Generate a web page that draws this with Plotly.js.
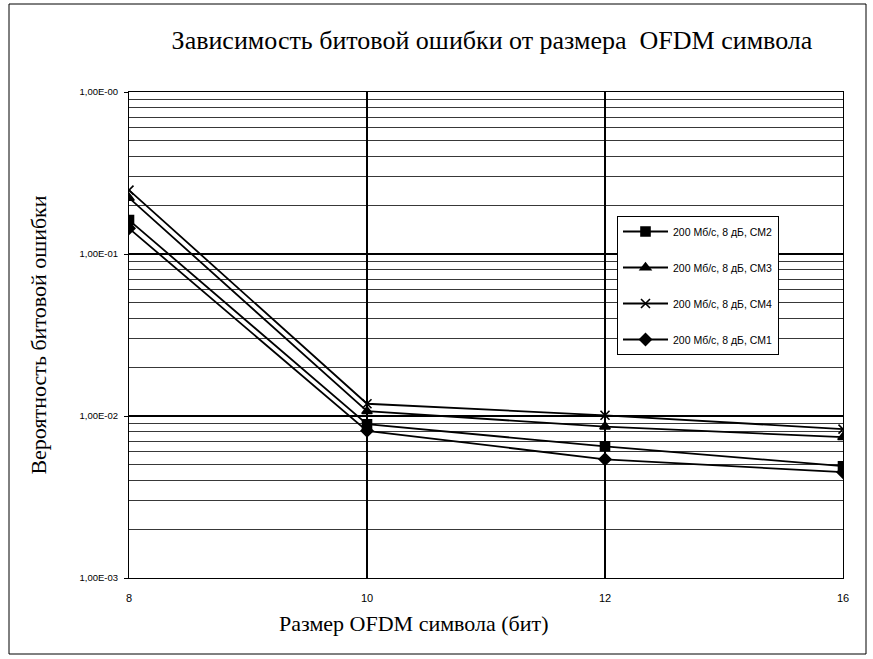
<!DOCTYPE html>
<html><head><meta charset="utf-8">
<script src="https://cdn.plot.ly/plotly-3.0.1.min.js"></script>
<style>body{margin:0;background:#fff}#c{width:873px;height:659px}</style>
</head><body><div id="c"></div>
<script>
const categories = ['8','10','12','16'];
const seriesNames = ['200 Мб/с, 8 дБ, СМ2','200 Мб/с, 8 дБ, СМ3','200 Мб/с, 8 дБ, СМ4','200 Мб/с, 8 дБ, СМ1'];
const cm2 = [0.162, 0.0089, 0.0065, 0.0049];
const cm3 = [0.222, 0.0107, 0.0086, 0.0074];
const cm4 = [0.248, 0.0119, 0.0101, 0.0083];
const cm1 = [0.144, 0.0081, 0.0054, 0.0045];
const yTickVals = [0.001, 0.01, 0.1, 1];
const yTickText = ['1,00E-03','1,00E-02','1,00E-01','1,00E-00'];

const values = [cm2, cm3, cm4, cm1];
const symbols = ['square','triangle-up','x-thin-open','diamond'];
const traces = values.map((v,i)=>({
  x: categories, y: v, name: seriesNames[i], type:'scatter', mode:'lines+markers',
  legendgroup: 'g'+i,
  line:{color:'#000', width:1.8},
  marker:{symbol:symbols[i], size:9, color:'#000', line:{color:'#000', width:1.6}}
}));

const L=129, R=30, T=92, B=81, W=873, H=659;
const pw=W-L-R, ph=H-T-B;
const px = p => (p-L)/pw, py = p => (H-B-p)/ph;

const layout = {
  width:W, height:H, margin:{l:L,r:R,t:T,b:B},
  paper_bgcolor:'#fff', plot_bgcolor:'#fff',
  font:{family:'Liberation Serif, serif', color:'#000'},
  title:{text:'Зависимость битовой ошибки от размера  OFDM символа', x:px(492), xref:'paper', xanchor:'center', y:1-40/H, yanchor:'middle', font:{size:26, family:'Liberation Serif, serif'}},
  xaxis:{type:'category', range:[0,3], showgrid:true, gridcolor:'#000', gridwidth:1.2,
    showline:true, linecolor:'#000', linewidth:1, mirror:true, ticks:'', ticklabelstandoff:10,
    tickfont:{family:'Liberation Sans, Arial, sans-serif', size:11}},
  yaxis:{type:'log', range:[-3,0], tickvals:yTickVals, ticktext:yTickText,
    showgrid:true, gridcolor:'#000', gridwidth:1.3,
    minor:{dtick:'D1', showgrid:true, gridcolor:'#222', gridwidth:0.9, ticks:''},
    showline:true, linecolor:'#000', linewidth:1, mirror:true, ticks:'outside', ticklen:4, tickcolor:'#000',
    ticklabelstandoff:4,
    tickfont:{family:'Liberation Sans, Arial, sans-serif', size:9.5},
    title:{text:'Вероятность битовой ошибки', font:{size:22}, standoff:26}},
  legend:{x:px(617), y:py(216), xanchor:'left', yanchor:'top', bgcolor:'#fff', bordercolor:'#000', borderwidth:1,
    font:{family:'Liberation Sans, Arial, sans-serif', size:10.5}, tracegroupgap:17, itemwidth:45},
  showlegend:true,
  annotations:[{text:'Размер OFDM символа (бит)', xref:'paper', yref:'paper', x:px(414), y:py(623), xanchor:'center', yanchor:'middle', showarrow:false, font:{size:22, family:'Liberation Serif, serif'}}],
  shapes:[{type:'rect', xref:'paper', yref:'paper', x0:px(9), x1:px(866), y0:py(4), y1:py(654), line:{color:'#000', width:1}, layer:'below'}]
};
Plotly.newPlot('c', traces, layout, {staticPlot:true});
</script></body></html>
